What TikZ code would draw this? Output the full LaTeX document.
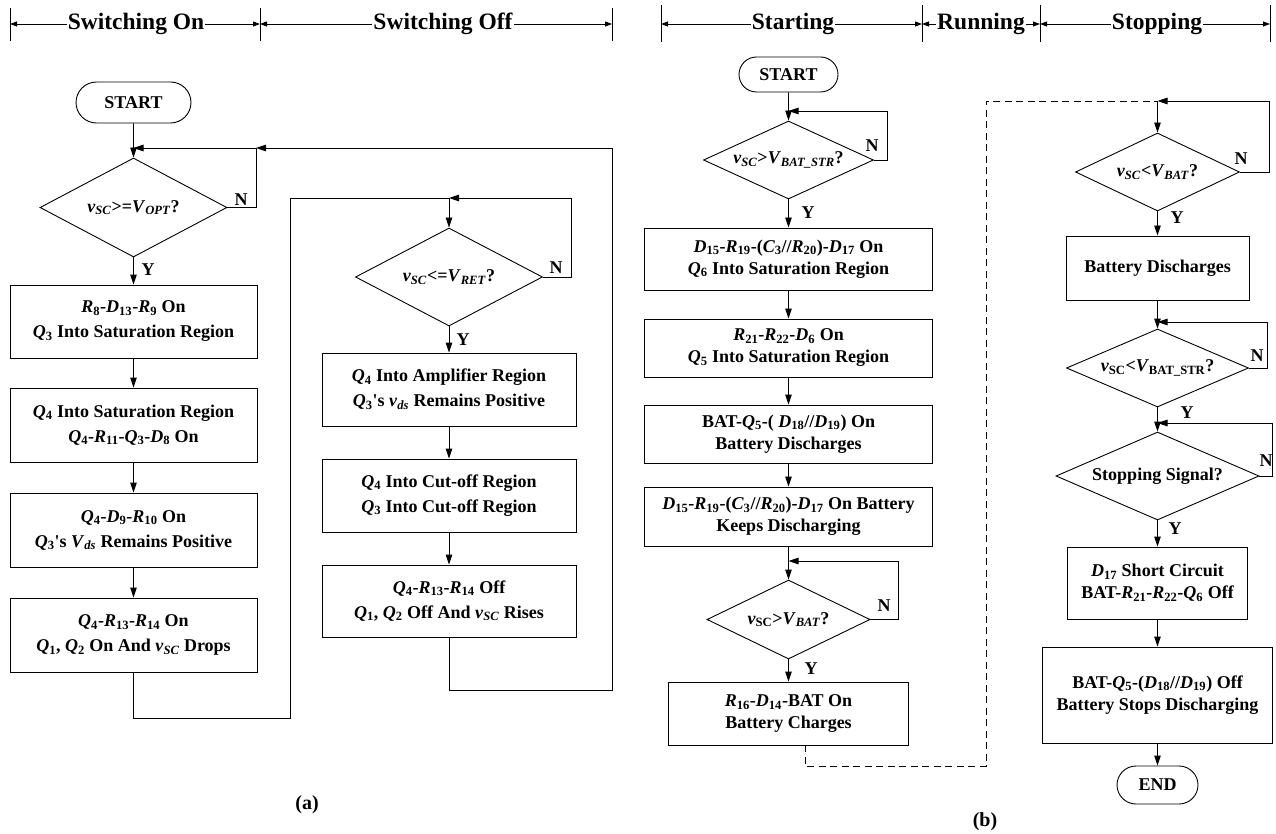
\documentclass[tikz,border=0pt]{standalone}
\usepackage{fontspec}
\setmainfont{Liberation Serif}
\usetikzlibrary{shapes.geometric,shapes.misc,arrows.meta}
\newcommand\isub[2]{\textit{#1}\textsubscript{#2}}
\newcommand\apo{\textquotesingle}
\begin{document}
\begin{tikzpicture}[x=1pt,y=-1pt,
  ln/.style={line width=0.9pt},
  arr/.style={ln,-{Triangle[length=10pt,width=6.5pt]}},
  harr/.style={ln,{Triangle[length=7pt,width=5pt]}-{Triangle[length=7pt,width=5pt]}},
  dsh/.style={ln,dash pattern=on 7pt off 4.5pt},
  txt/.style={font=\bfseries\fontsize{18}{25}\selectfont},
  boxa/.style={draw,ln,rectangle,align=center,inner sep=0pt,txt},
  boxb/.style={boxa,font=\bfseries\fontsize{18}{22}\selectfont},
  term/.style={draw,ln,rounded rectangle,inner sep=0pt,txt},
  dia/.style={draw,ln,diamond,inner sep=0pt,align=center,txt},
  lbl/.style={inner sep=0pt,txt},
  head/.style={fill=white,inner xsep=1pt,inner ysep=0pt,font=\bfseries\fontsize{23.5}{26}\selectfont},
  captxt/.style={inner sep=0pt,font=\bfseries\fontsize{20}{24}\selectfont}
]
\useasboundingbox (0,0) rectangle (1276,834);

% ---------- headers ----------
\foreach \x in {10,260,612} \draw[ln] (\x,8) -- (\x,41);
\foreach \x in {661,922,1040,1270} \draw[ln] (\x,5) -- (\x,42);
\coordinate (hA0) at (10,24); \coordinate (hA1) at (260,24); \coordinate (hA2) at (612,24);
\coordinate (hB0) at (661,24); \coordinate (hB1) at (922,24); \coordinate (hB2) at (1040,24); \coordinate (hB3) at (1270,24);
\draw[harr] (hA0) -- (hA1);
\draw[harr] (hA1) -- (hA2);
\draw[harr] (hB0) -- (hB1);
\draw[harr] (hB1) -- (hB2);
\draw[harr] (hB2) -- (hB3);
\node[head] (tA1) at (136,24) {Switching On};
\node[head] (tA2) at (443,24) {Switching Off};
\node[head] (tB1) at (793,24) {Starting};
\node[head] (tB2) at (981,24) {Running};
\node[head] (tB3) at (1157,24) {Stopping};

% ---------- (a) left column ----------
\node[term,minimum width=115,minimum height=41] (sa) at (133.5,102.5) {START};
\node[dia,aspect=1.89,minimum width=187,minimum height=99] (da1) at (133.5,207.5) {\isub{v}{\textit{SC}}>=\isub{V}{\textit{OPT}}?};
\node[boxa,minimum width=247,minimum height=73] (a1) at (133.5,321.5) {\isub{R}{8}-\isub{D}{13}-\isub{R}{9} On\\\isub{Q}{3} Into Saturation Region};
\node[boxa,minimum width=247,minimum height=74] (a2) at (133.5,425) {\isub{Q}{4} Into Saturation Region\\\isub{Q}{4}-\isub{R}{11}-\isub{Q}{3}-\isub{D}{8} On};
\node[boxa,minimum width=247,minimum height=74] (a3) at (133.5,530) {\isub{Q}{4}-\isub{D}{9}-\isub{R}{10} On\\\isub{Q}{3}\apo s \isub{V}{\textit{ds}} Remains Positive};
\node[boxa,minimum width=247,minimum height=74] (a4) at (133.5,635) {\isub{Q}{4}-\isub{R}{13}-\isub{R}{14} On\\\isub{Q}{1}, \isub{Q}{2} On And \isub{v}{\textit{SC}} Drops};

% ---------- (a) right column ----------
\node[dia,aspect=1.91,minimum width=187,minimum height=98] (da2) at (449,277) {\isub{v}{\textit{SC}}<=\isub{V}{\textit{RET}}?};
\node[boxa,minimum width=254,minimum height=73] (b1) at (449,389.5) {\isub{Q}{4} Into Amplifier Region\\\isub{Q}{3}\apo s \isub{v}{\textit{ds}} Remains Positive};
\node[boxa,minimum width=254,minimum height=73] (b2) at (449,495.5) {\isub{Q}{4} Into Cut-off Region\\\isub{Q}{3} Into Cut-off Region};
\node[boxa,minimum width=254,minimum height=72] (b3) at (449,601) {\isub{Q}{4}-\isub{R}{13}-\isub{R}{14} Off\\\isub{Q}{1}, \isub{Q}{2} Off And \isub{v}{\textit{SC}} Rises};

\coordinate (ma1) at (133.5,148); \coordinate (ma1r) at (256,148);
\coordinate (ca1) at (133.5,718); \coordinate (ca2) at (290,198);
\coordinate (ma2) at (449,198); \coordinate (na2) at (571,198);
\coordinate (cb1) at (449,690); \coordinate (cb2) at (612,148);

\draw[arr] (sa) -- (da1.north);
\draw[arr] (da1.east) -| (ma1r) -- (ma1);
\draw[arr] (da1.south) -- (a1.north);
\draw[arr] (a1) -- (a2);
\draw[arr] (a2) -- (a3);
\draw[arr] (a3) -- (a4);
\draw[ln] (a4.south) -- (ca1) -| (ca2) -- (ma2);
\draw[arr] (ma2) -- (da2.north);
\draw[arr] (da2.east) -| (na2) -- (ma2);
\draw[arr] (da2.south) -- (b1.north);
\draw[arr] (b1) -- (b2);
\draw[arr] (b2) -- (b3);
\draw[arr] (b3.south) -- (cb1) -| (cb2) -- (ma1r);

\node[lbl] (ya1) at (148,270) {Y};
\node[lbl] (na1l) at (241,200) {N};
\node[lbl] (ya2) at (463,340) {Y};
\node[lbl] (na2l) at (556,268) {N};
\node[captxt] (capa) at (307,805) {(a)};

% ---------- (b) starting column ----------
\node[term,minimum width=99,minimum height=35] (sb) at (788.5,74.5) {START};
\node[dia,aspect=2.18,minimum width=170,minimum height=78] (db1) at (788.5,160) {\isub{v}{\textit{SC}}>\isub{V}{\textit{BAT\_STR}}?};
\node[boxb,minimum width=288,minimum height=62] (B1) at (788.5,259) {\isub{D}{15}-\isub{R}{19}-(\isub{C}{3}//\isub{R}{20})-\isub{D}{17} On\\\isub{Q}{6} Into Saturation Region};
\node[boxb,minimum width=288,minimum height=58] (B2) at (788.5,348) {\isub{R}{21}-\isub{R}{22}-\isub{D}{6} On\\\isub{Q}{5} Into Saturation Region};
\node[boxb,minimum width=288,minimum height=58] (B3) at (788.5,434) {BAT-\isub{Q}{5}-( \isub{D}{18}//\isub{D}{19}) On\\Battery Discharges};
\node[boxb,minimum width=288,minimum height=59] (B4) at (788.5,516.5) {\isub{D}{15}-\isub{R}{19}-(\isub{C}{3}//\isub{R}{20})-\isub{D}{17} On Battery\\Keeps Discharging};
\node[dia,aspect=2.06,minimum width=163,minimum height=79] (db2) at (788.5,619.5) {\isub{v}{SC}>\isub{V}{\textit{BAT}}?};
\node[boxb,minimum width=240,minimum height=63] (B5) at (788.5,713.5) {\isub{R}{16}-\isub{D}{14}-BAT On\\Battery Charges};

\coordinate (mb1) at (788.5,111); \coordinate (nb1) at (887,111);
\coordinate (mb2) at (788.5,561); \coordinate (nb2) at (898,561);
\coordinate (dq1) at (805,766); \coordinate (dq2) at (986,101);
\coordinate (mf1) at (1157.5,101);

\draw[arr] (sb) -- (db1.north);
\draw[arr] (db1.east) -| (nb1) -- (mb1);
\draw[arr] (db1.south) -- (B1.north);
\draw[arr] (B1) -- (B2);
\draw[arr] (B2) -- (B3);
\draw[arr] (B3) -- (B4);
\draw[arr] (B4.south) -- (db2.north);
\draw[arr] (db2.east) -| (nb2) -- (mb2);
\draw[arr] (db2.south) -- (B5.north);
\draw[dsh] (B5.south -| dq1) -- (dq1) -| (dq2) -- (mf1);

\node[lbl] (yb1) at (808,213) {Y};
\node[lbl] (nb1l) at (872,146) {N};
\node[lbl] (yb2) at (811,669) {Y};
\node[lbl] (nb2l) at (884,606) {N};

% ---------- (b) stopping column ----------
\node[dia,aspect=2.10,minimum width=164,minimum height=78] (f1) at (1157.5,172) {\isub{v}{\textit{SC}}<\isub{V}{\textit{BAT}}?};
\node[boxb,minimum width=183,minimum height=64] (S1) at (1157.5,268) {Battery Discharges};
\node[dia,aspect=2.33,minimum width=182,minimum height=78] (f2) at (1157.5,368) {\isub{v}{SC}<\isub{V}{BAT\_STR}?};
\node[dia,aspect=2.31,minimum width=203,minimum height=88] (f3) at (1157.5,476) {Stopping Signal?};
\node[boxb,minimum width=180,minimum height=72] (S2) at (1157.5,583) {\isub{D}{17} Short Circuit\\BAT-\isub{R}{21}-\isub{R}{22}-\isub{Q}{6} Off};
\node[boxb,minimum width=230,minimum height=96] (S3) at (1157.5,695) {BAT-\isub{Q}{5}-(\isub{D}{18}//\isub{D}{19}) Off\\Battery Stops Discharging};
\node[term,minimum width=81,minimum height=38] (se) at (1157.5,785) {END};

\coordinate (nf1) at (1269,101);
\coordinate (mf2) at (1157.5,322); \coordinate (nf2) at (1267,322);
\coordinate (mf3) at (1157.5,423); \coordinate (nf3) at (1272,423);

\draw[arr] (mf1) -- (f1.north);
\draw[arr] (f1.east) -| (nf1) -- (mf1);
\draw[arr] (f1.south) -- (S1.north);
\draw[arr] (S1.south) -- (f2.north);
\draw[arr] (f2.east) -| (nf2) -- (mf2);
\draw[arr] (f2.south) -- (f3.north);
\draw[arr] (f3.east) -| (nf3) -- (mf3);
\draw[arr] (f3.south) -- (S2.north);
\draw[arr] (S2) -- (S3);
\draw[arr] (S3) -- (se);

\node[lbl] (yf1) at (1177,218) {Y};
\node[lbl] (nf1l) at (1241,159) {N};
\node[lbl] (yf2) at (1187,413) {Y};
\node[lbl] (nf2l) at (1257,356) {N};
\node[lbl] (yf3) at (1175,529) {Y};
\node[lbl] (nf3l) at (1266,461) {N};
\node[captxt] (capb) at (985,822) {(b)};
\end{tikzpicture}
\end{document}
